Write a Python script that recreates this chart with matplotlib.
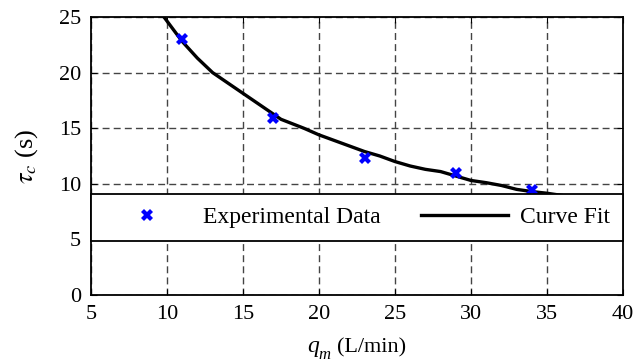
import numpy as np
import matplotlib
matplotlib.use("Agg")
import matplotlib.pyplot as plt

# measured points
exp_q = [11, 17, 23, 29, 34]
exp_tau = [23.0, 15.9, 12.3, 11.0, 9.4]

# fitted curve
fit_q = [9.8, 11.0, 12.0, 13.0, 14.5, 16.0, 17.5, 19.0, 20.0, 21.0, 22.0,
         23.0, 24.0, 25.0, 26.0, 27.0, 28.0, 29.0, 30.0, 31.0, 32.0, 33.0,
         34.0, 35.0, 36.0, 37.0, 38.0, 39.0, 40.0]
fit_tau = [25.0, 22.8, 21.3, 20.0, 18.6, 17.2, 15.8, 15.0, 14.4, 13.9, 13.4,
           12.9, 12.5, 12.0, 11.6, 11.3, 11.1, 10.7, 10.3, 10.1, 9.85, 9.5,
           9.3, 9.15, 8.95, 8.75, 8.55, 8.35, 8.2]

W, H = 635, 364

plt.rcParams["font.family"] = "Liberation Serif"
plt.rcParams["mathtext.fontset"] = "stix"

fig = plt.figure(figsize=(W / 100, H / 100), dpi=100)
ax = fig.add_axes([91 / W, 1 - 295 / H, 532 / W, 278 / H])

ax.plot(exp_q, exp_tau, "X", color="blue", markersize=8, markeredgewidth=0,
        linestyle="none", label="Experimental Data", zorder=3)
ax.plot(fit_q, fit_tau, "-", color="black", linewidth=2.4, label="Curve Fit", zorder=2)

ax.set_xlim(5, 40)
ax.set_ylim(0, 25)
ax.set_xticks(np.arange(5, 41, 5))
ax.set_yticks(np.arange(0, 26, 5))
ax.grid(True, linestyle=(0, (5, 3)), color="#444444", linewidth=1.0)
ax.tick_params(direction="in", top=True, right=True, labelsize=16, length=4, pad=7)
for s in ax.spines.values():
    s.set_linewidth(1.3)

# x label built in pieces so the subscript sits low, as in the original
fig.text(307 / W, 1 - 352 / H, "q", fontsize=17, style="italic", va="baseline", ha="left")
fig.text(318 / W, 1 - 359 / H, "m", fontsize=12, style="italic", va="baseline", ha="left")
fig.text(337 / W, 1 - 352 / H, "(L/min)", fontsize=16, va="baseline", ha="left")

ax.set_ylabel(r"$\tau_c$ (s)", fontsize=19, labelpad=14)

leg = ax.legend(loc="center", bbox_to_anchor=(0, 0.194, 1, 0.173), mode="expand",
                ncol=2, fontsize=17, frameon=True, fancybox=False, framealpha=1,
                edgecolor="black", handlelength=3.7, handletextpad=0.5,
                borderpad=0.54, borderaxespad=0)
leg.get_frame().set_linewidth(1.3)

fig.savefig("out.png", dpi=100)
